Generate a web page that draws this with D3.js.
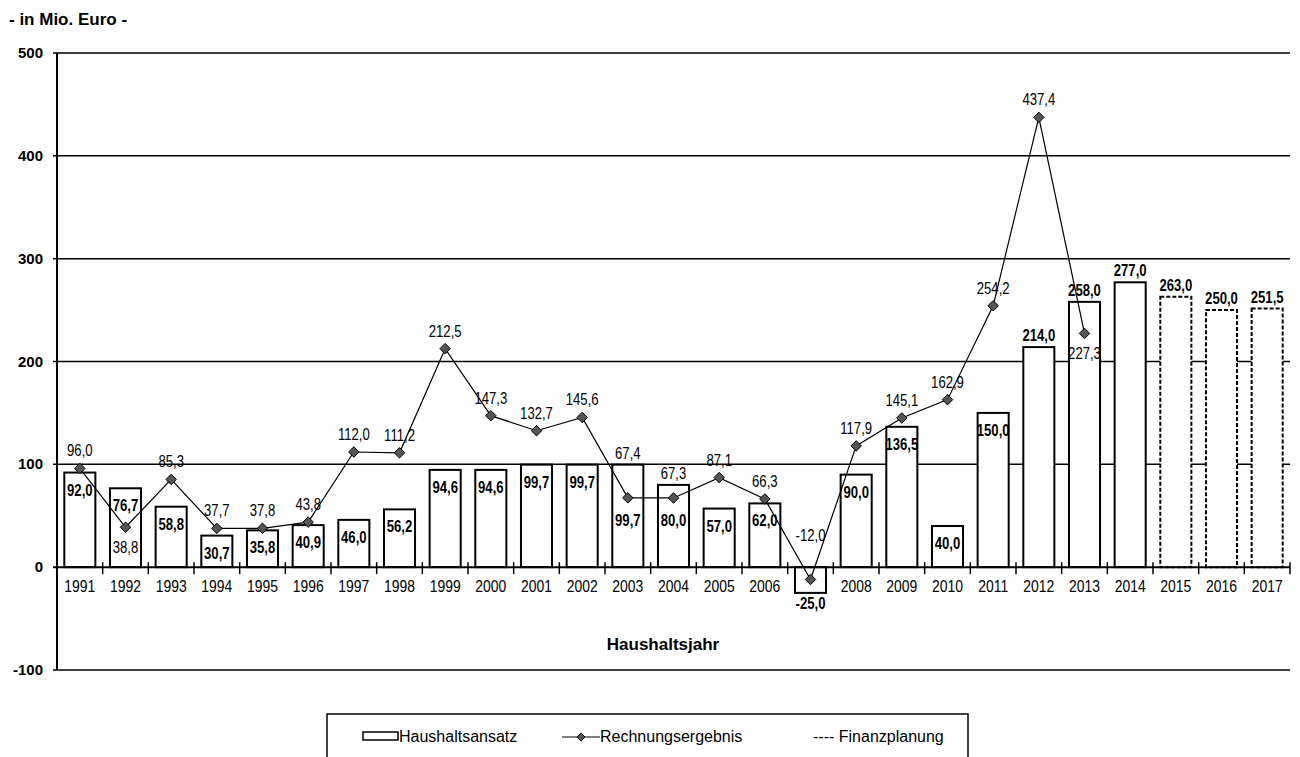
<!DOCTYPE html>
<html>
<head>
<meta charset="utf-8">
<script src="https://cdn.jsdelivr.net/npm/d3@7"></script>
<style>
  body { margin: 0; background: #fff; }
  svg { display: block; font-family: "Liberation Sans", Arial, sans-serif; }
  .title { font-size: 17px; font-weight: bold; }
  .yl { font-size: 15px; font-weight: bold; }
  .xl { font-size: 17px; }
  .axtitle { font-size: 17px; font-weight: bold; }
  .barlab { font-size: 16px; font-weight: bold; }
  .linelab { font-size: 16px; }
  .leg { font-size: 16px; }
</style>
</head>
<body>
<script>
// Haushaltsjahre
var years = ["1991","1992","1993","1994","1995","1996","1997","1998","1999","2000",
             "2001","2002","2003","2004","2005","2006","2007","2008","2009","2010",
             "2011","2012","2013","2014","2015","2016","2017"];
// labels under the axis (2007 has none in the original)
var yearLabels = ["1991","1992","1993","1994","1995","1996","1997","1998","1999","2000",
                  "2001","2002","2003","2004","2005","2006","","2008","2009","2010",
                  "2011","2012","2013","2014","2015","2016","2017"];
// Haushaltsansatz (bars)
var ansatz = [92.0, 76.7, 58.8, 30.7, 35.8, 40.9, 46.0, 56.2, 94.6, 94.6,
              99.7, 99.7, 99.7, 80.0, 57.0, 62.0, -25.0, 90.0, 136.5, 40.0,
              150.0, 214.0, 258.0, 277.0, 263.0, 250.0, 251.5];
// Rechnungsergebnis (line), 1991-2013
var ergebnis = [96.0, 38.8, 85.3, 37.7, 37.8, 43.8, 112.0, 111.2, 212.5, 147.3,
                132.7, 145.6, 67.4, 67.3, 87.1, 66.3, -12.0, 117.9, 145.1, 162.9,
                254.2, 437.4, 227.3];
// Finanzplanung years (dashed bars)
var planung = ["2015","2016","2017"];
// line labels that sit under the marker
var labelBelow = ["1992","2013"];
var yTicks = [-100, 0, 100, 200, 300, 400, 500];

var W = 1300, H = 757;
var svg = d3.select("body").append("svg").attr("width", W).attr("height", H);

var x = d3.scaleBand().domain(years).range([57, 1290]);
var y = d3.scaleLinear().domain([-100, 500]).range([670, 53]);
var bw = x.bandwidth(), barW = bw * 0.68;
var narrow = 0.82; // the original uses a condensed face
var fmt = function(v) { return v.toFixed(1).replace(".", ","); };
function squeeze(px, py) { return "translate(" + px + "," + py + ") scale(" + narrow + ",1)"; }

// title
svg.append("text").attr("x", 9).attr("y", 25).attr("class", "title").text("- in Mio. Euro -");

// grid lines
svg.append("g").selectAll("line")
  .data(yTicks.filter(function(d) { return d !== 0; }))
  .enter().append("line")
  .attr("x1", 53).attr("x2", 1290)
  .attr("y1", function(d) { return y(d); }).attr("y2", function(d) { return y(d); })
  .style("stroke", "#000").style("stroke-width", 1.5);

// y labels
svg.append("g").selectAll("text")
  .data(yTicks).enter().append("text")
  .attr("class", "yl")
  .attr("x", 43).attr("y", function(d) { return y(d) + 5; })
  .attr("text-anchor", "end")
  .text(function(d) { return d; });

// bars
var bars = years.map(function(yr, i) { return {year: yr, v: ansatz[i], line: i < ergebnis.length ? ergebnis[i] : null}; });

svg.append("g").selectAll("rect")
  .data(bars).enter().append("rect")
  .attr("x", function(d) { return x(d.year) + (bw - barW) / 2; })
  .attr("width", barW)
  .attr("y", function(d) { return y(Math.max(0, d.v)); })
  .attr("height", function(d) { return Math.abs(y(d.v) - y(0)); })
  .style("fill", "#fff")
  .style("stroke", "#000")
  .style("stroke-width", 2)
  .style("stroke-dasharray", function(d) { return planung.indexOf(d.year) >= 0 ? "4,2" : null; });

// axes lines
svg.append("line").attr("x1", 53).attr("x2", 1290).attr("y1", y(0)).attr("y2", y(0))
  .style("stroke", "#000").style("stroke-width", 2);
svg.append("line").attr("x1", 57).attr("x2", 57).attr("y1", y(500)).attr("y2", y(-100))
  .style("stroke", "#000").style("stroke-width", 2);

// category ticks
svg.append("g").selectAll("line")
  .data(years.slice(1).concat(["end"])).enter().append("line")
  .attr("x1", function(d) { return d === "end" ? 1290 : x(d); })
  .attr("x2", function(d) { return d === "end" ? 1290 : x(d); })
  .attr("y1", y(0) - 5).attr("y2", y(0) + 7)
  .style("stroke", "#000").style("stroke-width", 1.5);

// year labels
svg.append("g").selectAll("text")
  .data(years).enter().append("text")
  .attr("class", "xl")
  .attr("transform", function(d) { return squeeze(x(d) + bw / 2, y(0) + 25); })
  .attr("text-anchor", "middle")
  .text(function(d, i) { return yearLabels[i]; });

svg.append("text").attr("class", "axtitle").attr("x", 663).attr("y", 650)
  .attr("text-anchor", "middle").text("Haushaltsjahr");

// line + markers
var pts = ergebnis.map(function(v, i) { return {year: years[i], v: v, bar: ansatz[i]}; });
var line = d3.line().x(function(d) { return x(d.year) + bw / 2; }).y(function(d) { return y(d.v); });
svg.append("path").datum(pts).attr("d", line)
  .style("fill", "none").style("stroke", "#000").style("stroke-width", 1.2);

var diamond = d3.symbol().type(d3.symbolDiamond2).size(70);
svg.append("g").selectAll("path")
  .data(pts).enter().append("path")
  .attr("d", diamond)
  .attr("transform", function(d) { return "translate(" + (x(d.year) + bw / 2) + "," + y(d.v) + ")"; })
  .style("fill", "#555").style("stroke", "#000").style("stroke-width", 1);

// bar labels
function barLabelY(d) {
  if (d.v < 0) return y(d.v) + 16;
  if (d.v >= 200) return y(d.v) - 6;
  if (d.line !== null && d.line < d.v && y(d.line) - y(d.v) < 35 && labelBelow.indexOf(d.year) < 0)
    return y(d.line) + 28;
  return y(d.v) + 23;
}
svg.append("g").selectAll("text")
  .data(bars).enter().append("text")
  .attr("class", "barlab")
  .attr("transform", function(d) { return squeeze(x(d.year) + bw / 2, barLabelY(d)); })
  .attr("text-anchor", "middle")
  .text(function(d) { return fmt(d.v); });

// line labels
function lineLabelY(d) {
  if (d.v < 0) return y(0) - 26;
  if (labelBelow.indexOf(d.year) >= 0) return y(d.v) + 26;
  if (d.v < d.bar) return y(d.bar) - 6;
  return y(d.v) - 12;
}
svg.append("g").selectAll("text")
  .data(pts).enter().append("text")
  .attr("class", "linelab")
  .attr("transform", function(d) { return squeeze(x(d.year) + bw / 2, lineLabelY(d)); })
  .attr("text-anchor", "middle")
  .text(function(d) { return fmt(d.v); });

// legend
var lg = svg.append("g").attr("class", "leg");
lg.append("rect").attr("x", 327).attr("y", 714).attr("width", 641).attr("height", 60)
  .style("fill", "none").style("stroke", "#000").style("stroke-width", 1.5);
lg.append("rect").attr("x", 363).attr("y", 732).attr("width", 35).attr("height", 8)
  .style("fill", "#fff").style("stroke", "#000").style("stroke-width", 1.5);
lg.append("text").attr("x", 399).attr("y", 742).text("Haushaltsansatz");
lg.append("line").attr("x1", 562).attr("x2", 600).attr("y1", 737).attr("y2", 737)
  .style("stroke", "#000").style("stroke-width", 1.2);
lg.append("path").attr("d", d3.symbol().type(d3.symbolDiamond2).size(40))
  .attr("transform", "translate(581,737)")
  .style("fill", "#555").style("stroke", "#000");
lg.append("text").attr("x", 600).attr("y", 742).text("Rechnungsergebnis");
lg.append("text").attr("x", 813).attr("y", 742).text("---- Finanzplanung");
</script>
</body>
</html>
